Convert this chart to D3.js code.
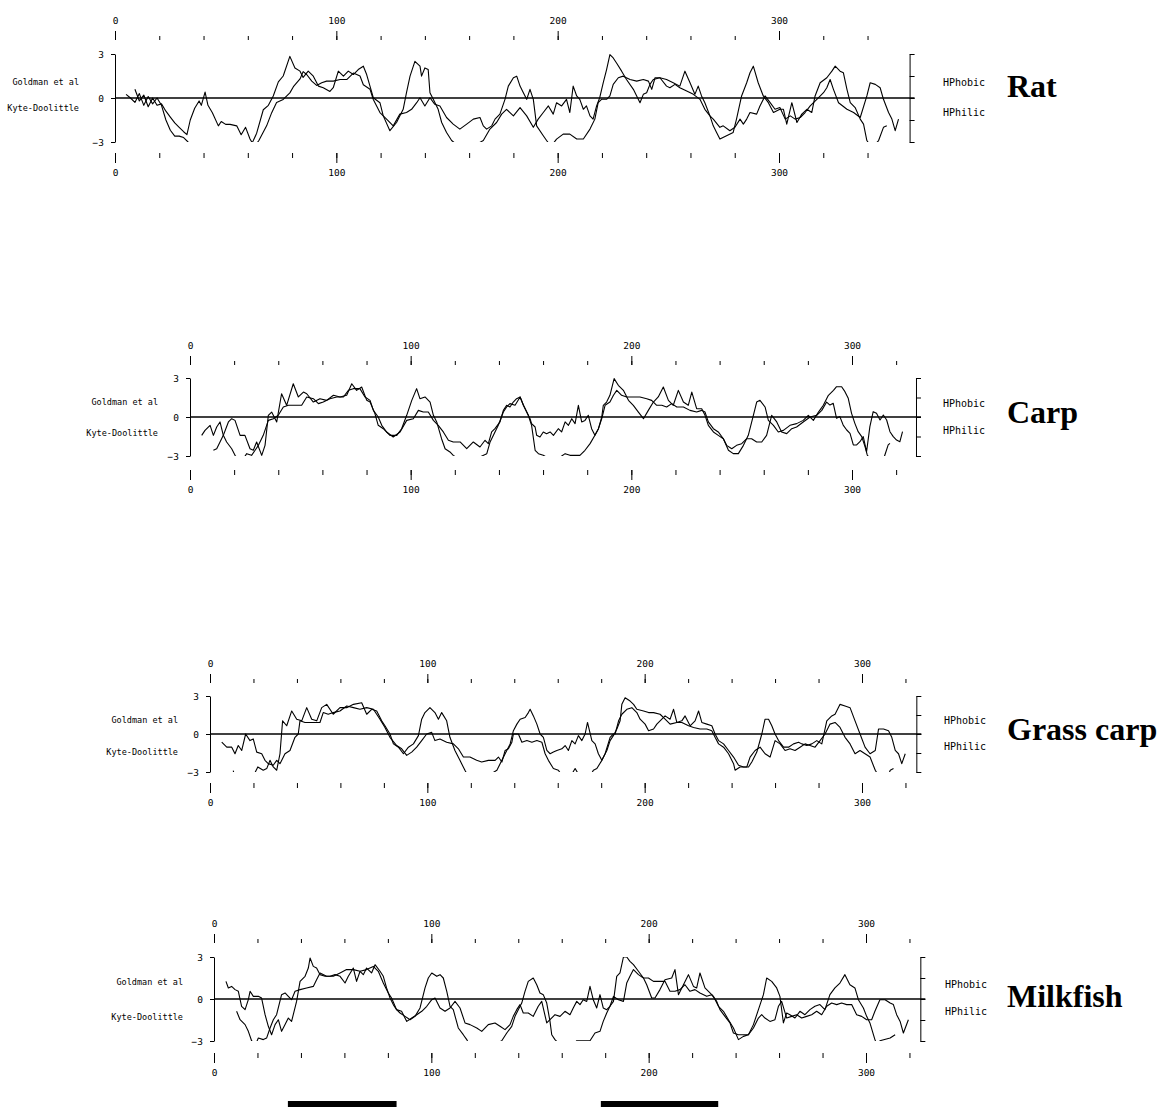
<!DOCTYPE html>
<html>
<head>
<meta charset="utf-8">
<script src="https://cdn.jsdelivr.net/npm/d3@7"></script>
<style>
  body { margin: 0; background: #fff; }
  text { font-family: "DejaVu Sans Mono", monospace; fill: #000; }
</style>
</head>
<body>
<svg id="chart" width="1157" height="1107"></svg>
<script>
// Profils d'hydrophobicité : [position du résidu, valeur]
const ratKyte = [[5,0.25],[7,0.0],[9,-0.3],[11,0.3],[13,-0.5],[15,0.1],[17,-0.4],[19,0.0],[21,-0.5],[23,-1.5],[25,-2.2],[27,-2.6],[29,-2.6],[31,-2.7],[33,-3.0],[35,-3.6],[48,-3.8],[60,-3.6],[62.5,-2.9],[64,-2.4],[67,-0.8],[69.3,-0.5],[71.5,0.14],[73.8,1.1],[76,1.5],[79,2.84],[81.3,2.05],[83.6,1.83],[85,1.4],[87.3,1.83],[89.6,1.49],[91.9,0.81],[94.1,0.7],[97.1,0.45],[98.6,0.7],[100.9,1.83],[103.2,1.49],[105.4,1.83],[107.7,1.6],[109.9,1.94],[112.2,2.17],[113.7,1.6],[115.2,0.81],[116.7,0.02],
  [119.7,-0.32],[121.2,-1.22],[124.2,-2.23],[127.2,-1.67],[130.2,-0.77],[131.7,0.36],[133.3,1.49],[135.5,2.5],[137.8,2.17],[138.5,1.49],[140,2.05],[141.5,1.94],[142.3,0.36],[143.8,-0.09],[146,-0.77],[147.6,-1.67],[149.8,-2.35],[152.1,-2.9],[158,-3.6],[166.4,-2.9],[169.4,-2.12],[172.4,-1.67],[174.7,-1.1],[176.9,-0.77],[180,-1.22],[183,-0.65],[186,-1.22],[189,-2.0],[191.2,-1.44],[193.5,-0.99],[195.8,-0.54],[198,-1.1],[199.5,-0.32],[201.8,-0.54],[204,-0.09],[205.5,-0.99],[207,0.81],[208.6,0.14],[210,-0.09],[211.6,-0.77],[213,-0.54],[214.6,-1.22],[216,-1.44],[217.6,-0.54],[219,0.02],[220.6,1.04],[222.1,1.94],[223.6,2.96],[225.1,2.73],[226.6,2.39],[228.9,1.83],[231.1,1.26],[234.2,0.59],[235.7,0.14],[237.2,-0.32],[238.7,0.25],[240.2,0.36],[241.7,0.93],[243.2,1.26],[246.2,1.38],[249.2,1.26],[252.2,1.04],[255.2,0.81],[257.5,1.83],[259.8,1.04],[262,0.25],[263.5,0.81],[265,0.14],[266.5,-0.32],[268.8,-1.22],[270.3,-1.9],[271.8,-2.35],[273.3,-2.8],[276.3,-2.57],[279.3,-2.35],[280.8,-1.44],[283.1,0.14],[285.4,1.04],[286.9,1.72],[288.4,2.17],[290.6,1.04],[292.9,0.14],[295.2,-0.32],[297.5,-0.99],[300.4,-0.77],
  [302,-0.77],[303.5,-1.78],[305.8,-0.32],[308.1,-1.67],[310.3,-1.1],[312.6,-0.77],[314.8,-0.99],[316.3,0.14],[318.6,1.04],[321.6,1.38],[323.9,1.83],[325.4,2.17],[327.6,1.83],[329.1,1.72],[330.7,0.59],[332.2,-0.32],[334.4,-0.65],[336.7,-1.44],[338.2,-1.78],[339.7,-2.9],[342,-3.4],[345,-2.9],[347.2,-2.0],[348.7,-1.9]];
const ratGoldman = [[9,0.6],[11,-0.2],[13,0.2],[15,-0.6],[17,0.0],[19,-0.5],[21,-0.4],[23,-0.9],[25,-1.3],[27,-1.7],[29,-2.0],[31,-2.3],[32.5,-2.5],[34,-1.5],[36,-0.7],[38,-0.2],[39,-0.5],[40.7,0.4],[42,-0.5],[44,-1.0],[46.7,-1.9],[48,-1.6],[50,-1.8],[52,-1.8],[55,-1.9],[57,-2.5],[59,-2.0],[61,-2.8],[63,-3.3],[65,-2.9],[68.5,-1.9],[70.8,-1.0],[73,-0.3],[76,-0.1],[79,0.35],[80.6,0.77],[83.6,1.3],[85,1.8],[86.6,1.6],[88.9,1.15],[91.1,0.86],[93.4,1.04],[95.6,1.15],[98.6,1.15],[101.7,1.26],[104.7,1.26],[107.7,1.7],[110.7,1.5],[112.2,0.9],[115.2,0.6],[116.7,-0.1],
  [119.7,-0.99],[122.7,-1.44],[125.7,-1.9],[128.7,-1.1],[131.7,-0.99],[134,-0.77],[136.3,-0.32],[137.8,0.02],[140,-0.54],[142.3,0.02],[144.5,-0.43],[146.8,-0.54],[149.8,-1.33],[152.8,-1.78],[155.8,-2.12],[158.9,-1.78],[161.9,-1.44],[164.9,-1.33],[166.4,-1.9],[167.9,-2.12],[170.2,-1.9],[171.7,-1.44],[173.9,-1.1],[176.2,-0.09],[177.7,0.81],[180,1.38],[181.5,1.49],[183,0.81],[184.5,0.36],[186,-0.09],[187.5,0.59],[189,-0.09],[190.5,-1.9],[193.5,-2.57],[195,-2.9],[197,-3.3],[199.5,-2.8],[202.5,-2.46],[205.5,-2.46],[208.6,-2.8],[211.6,-2.8],[214.6,-2.12],[216.8,-1.44],[218.3,-0.32],[219.8,-0.09],[222.1,-0.09],[223.6,0.14],[225.1,0.93],[227.4,1.38],[229.6,1.49],[232.7,1.26],[235.7,1.15],[238.7,1.26],[241,1.15],[242.5,0.59],[244,1.38],[246.2,1.38],[249.2,0.81],[250.7,0.7],[253,0.93],[255.2,0.7],[258.3,0.47],[261.3,0.25],[264.3,-0.09],[266.5,-0.77],[268.8,-1.22],[270.3,-1.44],[273.3,-2.0],[274.8,-1.9],[277.8,-2.23],[280.1,-2.0],[282.4,-1.44],[283.9,-1.78],[285.4,-1.44],[286.9,-0.99],[289.9,-1.1],[291.4,-0.54],[293.7,0.14],[296,-0.32],[298.2,-0.77],[300.4,-0.65],
  [302.8,-1.44],[305.1,-1.22],[307.3,-1.44],[309.6,-1.33],[311.8,-0.99],[314.1,-0.54],[317.1,-0.09],[320.1,0.36],[321.6,0.7],[323.1,1.26],[324.6,0.59],[326.9,-0.32],[330.7,-0.77],[333.7,-0.99],[336.7,-1.33],[339.7,0.14],[341.2,1.04],[343.5,0.93],[345.7,0.7],[347.2,-0.09],[349.5,-0.99],[351,-1.44],[352.5,-2.23],[354,-1.44]];

const carpGoldman = [[5.3,-1.41],[6.8,-1.03],[9.1,-0.64],[10.6,-1.41],[12.1,-0.77],[13.6,-0.38],[15.1,-1.41],[16.6,-1.92],[18.9,-2.44],[20.4,-2.95],[23,-3.5],[25.7,-2.82],[27.9,-2.95],[29.5,-2.56],[31,-2.18],[33.2,-1.41],[35.5,-0.26],[37.8,-0.13],[40,0.13],[42.3,0.77],[44.6,0.9],[48.3,0.9],[50.6,0.9],[52.9,1.54],[55.9,1.41],[58.2,1.03],[60.4,1.15],[63.4,1.41],[66.5,1.54],[69.5,1.54],[71.8,2.05],[74,2.18],[77,2.18],[79.3,1.54],[81.6,1.28],[83.1,0.51],[85.3,0.0],[86.9,-0.64],[89.1,-1.15],[92.1,-1.54],[95.2,-1.15],[98.2,-0.26],[101.2,-0.13],[103.5,0.51],[105.7,0.38],[108,0.38],[110.3,-0.26],[112.5,-0.64],[114.8,-1.15],[117.1,-1.79],[119.3,-1.92],[122.4,-1.92],[125.4,-2.44],[128.4,-1.92],[131.4,-2.31],
  [133.7,-1.79],[135.2,-2.05],[136.7,-1.15],[138.2,-0.9],[140.5,-0.38],[142,0.51],[143.5,0.9],[145,0.77],[146.5,1.15],[148,1.41],[149.6,1.54],[151.1,0.9],[152.6,0.38],[154.1,-0.13],[154.8,-0.51],[156.4,-0.77],[157.1,-1.41],[158.6,-1.54],[160.1,-1.15],[161.6,-1.28],[163.2,-1.15],[164.7,-1.41],[166.9,-0.9],[168.4,-1.15],[170,-0.38],[171.5,-0.64],[173,-0.13],[174.5,-0.51],[176,0.9],[177.5,-0.38],[179,-0.26],[180.5,0.13],[182,-0.9],[183.5,-1.41],[185.1,-0.9],[186.6,-0.13],[188.1,0.9],[190.3,1.15],[191.9,1.67],[193.4,2.05],[195.6,1.67],[197.9,1.54],[200.9,1.54],[203.9,1.54],[207,1.41],[209.2,1.28],[211.5,0.9],[213.8,0.9],[216,0.77],[218.3,1.03],[220.6,0.77],[223.6,0.77],[226.6,0.51],[229.6,0.38],[231.9,0.51],[233.4,0.38],[234.9,-0.38],[237.2,-0.9],[239.4,-1.15],[241.7,-1.67],[243.2,-2.18],[245.5,-2.44],[247.7,-2.18],[250,-2.05],[252.3,-1.67],[254.5,-1.67],[256.8,-1.92],[259.1,-1.92],[261.3,-1.41],[263.6,0.13],[265.9,-0.38],[268.1,-1.15],[270.4,-1.28],[272.7,-0.9],[274.9,-0.77],[277.9,-0.38],[281,0.0],[284,0.13],[286.3,0.51],[288.5,1.15],
  [290,0.92],[291.5,1.05],[293,-0.1],[294.5,0.03],[296,-0.62],[297.6,-1.0],[299.1,-1.26],[300.6,-2.15],[302.1,-2.15],[303.6,-1.9],[305.1,-1.51],[306.6,-2.67],[307.4,-1.64],[308.1,-0.74],[309.6,0.41],[311.1,0.28],[312.7,-0.23],[314.2,0.15],[315.7,-0.23],[317.2,-1.13],[318.7,-1.51],[320.2,-1.77],[321.7,-1.9],[322.9,-1.13]];
const carpKyte = [[10.6,-2.56],[12.1,-2.44],[13.6,-1.92],[15.1,-1.41],[17.4,-0.38],[18.9,-0.13],[20.4,-0.26],[22.7,-1.41],[24.9,-1.41],[27.2,-2.44],[28.7,-2.56],[30.2,-1.92],[32.5,-2.95],[34,-2.18],[35.5,0.13],[37,0.38],[39.3,-0.38],[41.5,1.79],[43.8,0.9],[46.8,2.56],[49.1,1.54],[51.4,1.92],[52.9,1.79],[55.9,1.15],[58.9,1.41],[61.9,1.28],[65,1.67],[68,1.54],[71,1.67],[73.3,2.56],[75.5,2.05],[77.8,2.31],[80.1,1.28],[81.6,1.15],[83.8,0.26],[85.3,-0.64],[87.6,-0.9],[90.6,-1.41],[93.7,-1.41],[95.9,-0.9],[98.2,0.13],[100.5,1.28],[102.7,2.18],[104.2,1.41],[106.5,1.54],[108.8,1.15],[110.3,0.13],[111.8,-0.38],[114,-1.67],[115.6,-2.44],[117.8,-2.69],[119.3,-2.95],[125,-3.6],
  [134.5,-2.82],[136,-1.92],[137.5,-1.41],[139.7,-0.64],[142,0.38],[143.5,0.77],[145,1.03],[147.3,0.9],[149.6,1.54],[151.1,0.9],[153.3,0.13],[154.8,-0.64],[156.4,-2.56],[157.9,-2.82],[160.1,-2.95],[165,-3.4],[170,-2.82],[172.2,-2.95],[176.7,-2.95],[179,-2.56],[181.3,-2.05],[183.5,-1.41],[185.1,-0.9],[186.6,0.0],[187.3,0.9],[188.8,1.15],[190.3,1.67],[192.2,2.95],[194.1,2.44],[196.4,2.05],[198.7,1.28],[200.9,0.9],[203.2,0.38],[205.5,-0.13],[207.7,0.51],[210,1.15],[212.2,1.54],[214.5,2.31],[216.8,1.28],[219,0.9],[221.3,2.05],[223.6,1.15],[225.8,0.9],[227.4,1.92],[229.6,0.64],[231.9,0.64],[233.4,0.13],[234.9,-0.64],[237.2,-1.15],[239.4,-1.41],[241.7,-1.67],[244,-2.56],[246.2,-2.82],[248.5,-2.82],[250.8,-2.18],[253,-1.41],[255.3,0.13],[256.8,1.15],[258.3,1.28],[260.6,0.77],[262.1,-0.26],[264.4,-0.64],[266.6,-1.15],[268.9,-1.03],[271.9,-0.64],[274.9,-0.51],[277.9,-0.26],[280.2,0.13],[282.5,-0.26],[284.8,0.38],[287,0.9],[289.3,1.67],[291.6,2.05],
  [293,2.33],[295.3,2.33],[296.8,1.95],[298.3,1.44],[299.8,0.28],[301.3,-0.49],[302.8,-1.13],[304.4,-1.51],[305.9,-2.28],[306.9,-2.92],[309,-3.4],[314,-3.4],[314.9,-2.92],[316.4,-2.15],[317.2,-2.03]];

const grassGoldman = [[5.4,-0.65],[7.7,-1.04],[10,-1.04],[11.5,-1.56],[13,-0.91],[14.6,-1.3],[16.4,0],[18.4,-0.52],[19.9,-0.39],[21.5,-1.43],[23.8,-1.56],[25.3,-2.08],[26.8,-2.34],[29.1,-2.47],[30.7,-2.08],[32.2,-2.34],[34.5,-1.56],[36.8,-1.3],[39.1,-0.26],[40.6,0],[41.4,1.04],[43.7,0.91],[45.2,0.91],[47.5,0.91],[50.6,0.91],[52.1,1.69],[54.4,1.56],[56.7,1.69],[59.8,1.82],[62.9,2.21],[66,2.08],[69,1.95],[72.1,2.08],[75.2,1.95],[78.2,1.17],[80.5,0.52],[82.8,-0.26],[85.9,-0.91],[88.2,-1.17],[90.5,-1.69],[92.8,-1.43],[95.1,-1.04],[97.4,-0.52],[99.7,0],[102,0.13],[103.5,-0.52],[105.8,-0.39],[108.9,-0.65],[112,-0.78],[114.3,-1.17],[116.6,-1.82],[119.6,-1.82],[122.7,-2.08],[125,-2.21],[128.1,-2.08],
  [131.2,-2.08],[132.7,-1.82],[134.3,-2.21],[135.8,-1.3],[137.3,-1.17],[138.9,-0.65],[139.6,0],[141.9,0],[143.5,-0.65],[145.8,-0.52],[148.1,-0.65],[150.4,-0.52],[152.7,-0.65],[154.2,-1.56],[155.7,-2.08],[158,-2.73],[160.3,-2.86],[162,-3.3],[166,-3.3],[168,-2.73],[170,-3.3],[175,-3.3],[176.4,-2.86],[178,-2.73],[180.3,-2.08],[182.6,-1.3],[184.1,-0.52],[185.6,-0.13],[187.2,0.39],[188.7,1.04],[189.5,2.34],[191,2.86],[193.3,2.6],[194.9,2.34],[196.4,1.95],[199.5,1.82],[201.8,1.69],[204.1,1.69],[207.1,1.56],[209.4,1.17],[211.7,0.78],[214.8,0.91],[217.1,0.91],[220.2,0.65],[222.5,0.52],[225.5,0.39],[228.6,0.39],[230.9,0.26],[232.4,-0.26],[234,-0.78],[236.3,-1.04],[238.6,-1.56],[240.9,-2.34],[241.6,-2.86],[243.9,-2.6],[247,-2.6],[248.5,-1.82],[250.8,-1.3],[253.1,-1.04],[255.4,-1.56],[257.7,-1.82],[260,-0.52],[262.3,-0.78],[264.6,-1.3],[266.9,-1.17],[269.2,-1.3],[271.5,-1.04],[273.8,-0.78],[276.1,-0.91],[278.4,-1.04],[280.7,-0.52],[283,0],[285.3,0.78],[287.6,0.91],[289.9,0.52],[292.2,-0.26],[294.5,-0.78],[296.8,-1.56],[299.1,-1.3],[301.4,-1.56],[303.7,-1.82],[306.1,-2.86],[308,-3.4],[312,-3.3],[313,-2.86],[314.5,-2.73]];
const grassKyte = [[10.7,-2.9],[11.3,-3.3],[20,-3.3],[22,-2.6],[24.5,-2.86],[26.1,-2.73],[27.6,-2.08],[29.1,-2.6],[30.7,-2.86],[32.2,-1.56],[33.4,1.04],[35.3,0.65],[37.6,1.82],[39.9,1.17],[42.2,1.04],[44.5,2.08],[46.8,1.17],[49.1,1.04],[51.4,2.08],[53.7,2.34],[56.7,1.56],[59.8,2.08],[62.9,2.08],[66,2.34],[69.8,2.47],[72.1,1.56],[74.4,1.95],[76.7,1.82],[79,1.04],[80.5,0.65],[82.8,0],[84.4,-0.78],[86.7,-1.04],[89,-1.56],[91.3,-1.04],[93.6,-0.78],[95.9,-0.13],[97.4,1.17],[98.9,1.69],[101.2,2.08],[103.5,1.69],[105.1,1.17],[106.6,1.69],[108.9,1.04],[110.4,-0.26],[112.7,-1.3],[115,-2.08],[117.3,-2.86],[119,-3.4],[126,-3.5],
  [132,-2.86],[133.5,-2.34],[135.8,-1.56],[138.1,-0.78],[139.6,0.26],[141.2,0.78],[142.7,1.17],[145,1.3],[146.5,1.69],[147.3,1.95],[148.8,1.43],[150.4,0.78],[151.9,0],[153.4,-0.26],[155,-1.3],[156.5,-1.56],[158,-1.43],[159.6,-1.3],[161.9,-1.17],[163.4,-0.91],[164.9,-1.3],[166.5,-0.52],[168,-0.78],[169.5,-0.13],[171.1,-0.52],[172.6,0],[173.7,0.91],[175.7,-0.52],[177.2,-0.78],[178.7,-1.56],[180.3,-2.08],[181.8,-1.56],[184.1,-0.26],[185.6,0],[186.4,0],[188,1.04],[189.5,1.56],[191.8,1.95],[194.1,2.08],[196.4,1.69],[197.9,1.17],[200.2,0.78],[201.8,0.26],[204.1,0.39],[205.6,0.78],[207.1,1.04],[209.4,1.43],[211.7,1.17],[213.3,1.95],[214.8,0.91],[217.1,1.04],[218.6,1.43],[220.9,0.65],[223.2,1.04],[224.8,1.82],[226.3,0.91],[228.6,0.78],[230.9,0.65],[232.4,0],[234,-0.52],[236.3,-0.78],[238.6,-1.3],[240.9,-1.82],[243.2,-2.47],[245.5,-2.6],[247.8,-2.6],[249.3,-2.21],[251.6,-1.43],[253.9,0],[255.4,1.17],[257,1.17],[258.5,0.65],[260,0],[261.6,-0.52],[263.9,-1.04],[266.2,-1.04],[268.5,-0.78],[270.8,-0.65],[272.3,-0.78],[274.6,-0.91],[276.9,-0.78],[279.2,-0.52],[281.5,-0.78],[283.8,1.04],[286.1,1.43],[287.6,1.56],[289.9,2.34],[292.2,2.21],[294.5,2.08],[296.8,1.04],[299.1,0],[301.4,-1.04],[303.7,-1.56],[306.1,-1.3],[307.6,0.39],[309.9,0.39],[312.2,0.26],[313.7,-0.26],[315.3,-1.3],[316.8,-1.56],[318.3,-2.34],[319.9,-1.56]];

const milkKyte = [[5.5,1.26],[6.6,0.79],[8.1,0.9],[9.7,0.67],[11.2,0.55],[12.7,-0.52],[14.3,-0.76],[15.8,-0.05],[16.6,0.55],[18.1,0.19],[20.4,0.19],[21.9,0.07],[23.5,-1.12],[25,-1.95],[26.5,-2.55],[28.1,-1.83],[29.6,-1.48],[31.1,-2.31],[32.7,-1.83],[34.2,-1.36],[35.7,-1.6],[38,-0.17],[39.6,1.26],[41.9,1.62],[43.4,2.21],[44.2,2.93],[45.7,2.33],[47.2,2.21],[48.8,1.74],[51.1,1.62],[53.4,1.62],[55.7,1.74],[58,1.62],[60.3,1.14],[61.8,1.62],[64.1,2.21],[65.6,1.26],[67.2,1.98],[68.7,1.74],[70.2,2.21],[72.5,1.86],[74.1,2.45],[76.4,1.98],[77.9,1.62],[79.4,0.79],[81,0.07],[82.5,-0.4],[84,-0.76],[85.6,-1.0],[87.9,-1.24],[90.2,-1.48],[92.5,-1.24],[94.8,-0.64],[97.1,0.79],[98.6,1.5],[100.2,1.86],[102.5,1.62],[104,1.74],[105.5,1.5],[107.1,0.55],[108.6,-0.52],[110.1,-0.76],[112.4,-2.07],[114.7,-2.55],[116.3,-2.9],[118,-3.4],[126,-3.5],
  [132.4,-2.98],[134.7,-2.43],[137,-1.95],[138.5,-1.24],[140,-0.76],[141.6,-0.29],[143.1,0.55],[144.6,1.26],[146.9,1.5],[148.5,1.02],[150,0.43],[151.5,0.31],[153.1,-0.29],[154.6,-1.6],[155.4,-2.55],[156.9,-2.9],[160,-3.4],[165,-3.3],[166.9,-2.98],[173,-2.98],[175.3,-2.43],[177.6,-2.31],[179.1,-1.6],[180.7,-1.0],[182.2,-0.52],[183.8,-0.17],[185.3,1.62],[186.8,1.86],[188.4,3.0],[189.9,3.0],[191.4,2.69],[193,2.45],[195.3,1.98],[197.6,1.5],[199.1,1.02],[201.4,0.07],[202.9,0.07],[205.2,0.67],[207.5,1.38],[210.6,1.5],[212.1,2.1],[213.7,0.31],[216,1.02],[218.3,1.74],[220.6,0.9],[222.1,0.79],[223.6,1.86],[225.9,0.79],[228.2,0.43],[229.8,0.19],[232.1,-0.52],[234.4,-0.88],[236.7,-1.48],[239,-2.07],[241.3,-2.9],[243.6,-2.67],[245.9,-2.55],[248.2,-1.83],[250.5,-0.76],[252.8,0.31],[254.3,1.5],[256.6,1.26],[258.9,0.79],[260.4,0.19],[262,-1.71],[263.5,-1.0],[265,-1.12],[267.3,-1.36],[269.6,-0.88],[271.9,-1.12],[274.2,-0.76],[276.5,-0.52],[278.8,-0.4],[281.1,-0.76],[283.4,0.31],[285.7,0.79],[288,1.14],[290.3,1.74],[292.6,1.02],[294.9,0.79],[296.5,-0.05],[298.8,-0.64],[300.3,-1.24],[301.8,-1.71],[304.1,-2.9],[305.5,-3.4],[306.4,-2.98],[311.1,-2.79],[313.4,-2.55]];
const milkGoldman = [[10.4,-0.88],[12,-1.48],[14.3,-1.83],[15.8,-2.31],[17.3,-2.98],[19,-3.3],[20.4,-2.79],[22.7,-2.9],[24.2,-2.79],[25.8,-2.07],[27.3,-1.48],[28.8,-1.12],[31.1,0.31],[32.7,0.43],[34.2,0.19],[35.7,-0.05],[37.3,0.55],[39.6,0.67],[42.6,0.79],[45.7,0.9],[47.2,1.38],[48.8,1.86],[51.8,1.62],[54.9,1.62],[58,1.86],[61,2.1],[64.1,2.1],[67.2,1.98],[70.2,2.1],[73.3,2.33],[75.6,1.98],[77.9,1.14],[80.2,0.43],[81.7,0.07],[84,-0.76],[86.3,-0.88],[88.7,-1.6],[91,-1.36],[93.3,-1.12],[95.6,-0.88],[97.9,-0.52],[100.2,-0.05],[101.7,0.07],[104,-0.64],[106.3,-0.88],[108.6,-0.64],[110.9,-0.17],[113.2,-0.64],[115.5,-1.71],[117.8,-1.83],[120.9,-2.07],[123.2,-2.31],[126.2,-1.83],[129.3,-1.71],
  [131.6,-1.95],[133.9,-2.19],[136.2,-1.83],[137.7,-1.24],[139.3,-0.76],[140.8,-0.4],[142.3,-1.0],[144.6,-1.0],[146.9,-1.24],[149.2,-0.52],[150.8,-0.17],[153.1,-1.71],[154.6,-1.48],[156.9,-1.12],[159.2,-1.24],[161.5,-0.88],[163.8,-1.12],[165.3,-0.64],[166.9,-0.17],[168.4,-0.4],[169.9,-0.05],[171.5,-0.17],[173,0.9],[174.5,-0.05],[176.1,-0.64],[177.6,0.31],[179.1,-0.64],[180.7,-0.76],[182.2,-0.52],[183.8,0.19],[186.1,-0.05],[188.4,-0.17],[189.9,1.14],[191.4,1.62],[193,2.1],[195.3,1.74],[197.6,1.5],[199.9,1.5],[202.2,1.26],[205.2,1.26],[207.5,1.26],[209.8,0.55],[212.1,0.55],[214.4,0.67],[216.7,1.02],[219,0.55],[221.3,0.67],[223.6,0.43],[226.7,0.19],[229,0.31],[231.3,-0.17],[232.8,-0.76],[235.1,-1.24],[237.4,-1.71],[239,-2.43],[241.3,-2.55],[243.6,-2.55],[245.9,-2.55],[248.2,-2.07],[250.5,-1.36],[252,-1.12],[253.5,-1.36],[255.8,-1.6],[258.1,-1.48],[259.7,-0.52],[261.2,-0.17],[263.5,-1.36],[265.8,-1.24],[268.1,-1.12],[270.4,-1.36],[272.7,-1.24],[275,-1.12],[277.3,-0.88],[279.6,-1.12],[281.9,-0.52],[284.2,-0.29],[286.5,-0.4],[288.8,-0.29],[291.1,-0.4],[293.4,-0.4],[295.7,-1.12],[298,-1.24],[300.3,-1.48],[302.6,-1.48],[304.1,-0.88],[306.4,-0.05],[308.8,-0.05],[311.1,-0.29],[312.6,-0.4],[314.1,-1.12],[315.7,-1.6],[317.2,-2.43],[319.5,-1.48]];

// Segments marqués sous le dernier profil (positions des résidus)
const milkBars = [[34, 84], [178, 232]];

const species = ["Rat", "Carp", "Grass carp", "Milkfish"];
const leftLabels = ["Goldman et al", "Kyte-Doolittle"];
const rightLabels = ["HPhobic", "HPhilic"];
const yTicks = [-3, 0, 3];
const seqLength = [359, 329, 325, 325];

// Mise en page de chaque panneau (pixels)
const layout = [
  {x0: 115, x300: 779, yTop: 54,  yBot: 142,  topTick: 40,  botTick: 153,  labX: 79,  labY: [82, 108],   sideX: 943, sideY: [83, 113],   nameY: 90},
  {x0: 190, x300: 852, yTop: 378, yBot: 456,  topTick: 365, botTick: 470,  labX: 158, labY: [402, 433],  sideX: 943, sideY: [404, 431],  nameY: 416},
  {x0: 210, x300: 862, yTop: 696, yBot: 772,  topTick: 683, botTick: 783,  labX: 178, labY: [720, 752],  sideX: 944, sideY: [721, 747],  nameY: 733},
  {x0: 214, x300: 866, yTop: 957, yBot: 1041, topTick: 943, botTick: 1053, labX: 183, labY: [982, 1017], sideX: 945, sideY: [985, 1012], nameY: 1000}
];
const series = [[ratGoldman, ratKyte], [carpGoldman, carpKyte], [grassGoldman, grassKyte], [milkGoldman, milkKyte]];

const svg = d3.select("#chart");

function styleAxis(g) {
  g.attr("font-family", "DejaVu Sans Mono, monospace").attr("font-size", 9.5);
  g.selectAll("line, path").attr("stroke", "#000");
  g.selectAll("text").attr("fill", "#000");
}

species.forEach((name, i) => {
  const L = layout[i];
  const len = seqLength[i];
  const x = d3.scaleLinear().domain([0, 300]).range([L.x0, L.x300]);
  const y = d3.scaleLinear().domain([-3, 3]).range([L.yBot, L.yTop]);
  const g = svg.append("g");

  const minor = d3.range(0, len, 20);
  const major = minor.filter(v => v % 100 === 0);

  // Graduations du haut
  g.append("g").attr("transform", `translate(0,${L.topTick})`)
    .call(d3.axisTop(x).tickValues(minor).tickSize(4).tickFormat(""))
    .call(a => a.select(".domain").remove()).call(styleAxis);
  g.append("g").attr("transform", `translate(0,${L.topTick})`)
    .call(d3.axisTop(x).tickValues(major).tickSize(9).tickPadding(7).tickFormat(d3.format("d")))
    .call(a => a.select(".domain").remove()).call(styleAxis);

  // Graduations du bas
  g.append("g").attr("transform", `translate(0,${L.botTick})`)
    .call(d3.axisBottom(x).tickValues(minor).tickSize(5).tickFormat(""))
    .call(a => a.select(".domain").remove()).call(styleAxis);
  g.append("g").attr("transform", `translate(0,${L.botTick})`)
    .call(d3.axisBottom(x).tickValues(major).tickSize(10).tickPadding(6).tickFormat(d3.format("d")))
    .call(a => a.select(".domain").remove()).call(styleAxis);

  // Axe vertical gauche
  g.append("g").attr("transform", `translate(${L.x0},0)`)
    .call(d3.axisLeft(y).tickValues(yTicks).tickSize(4).tickSizeOuter(0).tickPadding(7).tickFormat(d3.format("d")))
    .call(styleAxis);

  // Crochet à droite
  g.append("g").attr("transform", `translate(${x(len)},0)`)
    .call(d3.axisRight(y).tickValues([-3, -1.5, 0, 1.5, 3]).tickSize(5).tickSizeOuter(0).tickFormat(""))
    .call(styleAxis);

  // Ligne du zéro
  g.append("line")
    .attr("x1", L.x0).attr("x2", x(len) + 5)
    .attr("y1", y(0)).attr("y2", y(0))
    .attr("stroke", "#000").attr("stroke-width", 1.6);

  // Découpe entre -3 et 3
  const clipId = "clip" + i;
  svg.append("defs").append("clipPath").attr("id", clipId)
    .append("rect")
      .attr("x", L.x0).attr("y", L.yTop)
      .attr("width", x(len) - L.x0).attr("height", L.yBot - L.yTop);

  const line = d3.line().x(d => x(d[0])).y(d => y(d[1]));
  g.append("g").attr("clip-path", `url(#${clipId})`)
    .selectAll("path")
    .data(series[i])
    .join("path")
      .attr("d", line)
      .attr("fill", "none")
      .attr("stroke", "#000")
      .attr("stroke-width", 1.1)
      .attr("stroke-linejoin", "round");

  // Libellés à gauche
  g.selectAll(".lab")
    .data(leftLabels)
    .join("text")
      .attr("x", L.labX)
      .attr("y", (d, j) => L.labY[j])
      .attr("text-anchor", "end")
      .attr("dominant-baseline", "middle")
      .attr("font-size", 8.5)
      .text(d => d);

  // Libellés à droite
  g.selectAll(".side")
    .data(rightLabels)
    .join("text")
      .attr("x", L.sideX)
      .attr("y", (d, j) => L.sideY[j])
      .attr("dominant-baseline", "middle")
      .attr("font-size", 10)
      .text(d => d);

  // Nom de l'espèce
  g.append("text")
    .attr("x", 1007)
    .attr("y", L.nameY)
    .attr("dominant-baseline", "middle")
    .style("font-family", "'Liberation Serif', 'Times New Roman', serif")
    .style("font-weight", "bold")
    .style("font-size", "32px")
    .text(name);

  // Barres sous le dernier panneau
  if (i === 3) {
    svg.selectAll(".bar")
      .data(milkBars)
      .join("rect")
        .attr("x", d => x(d[0]))
        .attr("width", d => x(d[1]) - x(d[0]))
        .attr("y", 1101)
        .attr("height", 8)
        .attr("fill", "#000");
  }
});
</script>
</body>
</html>
